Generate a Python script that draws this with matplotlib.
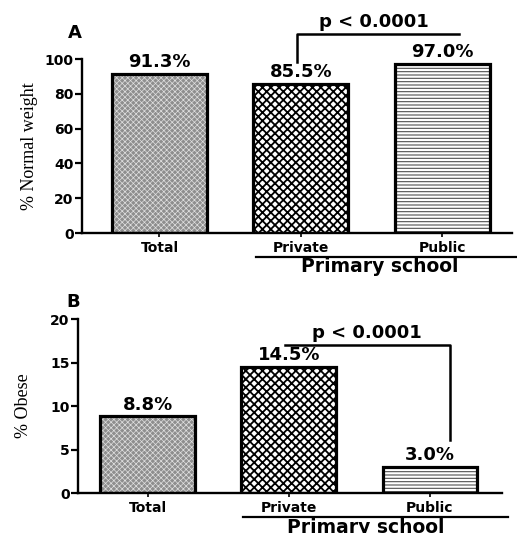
import numpy as np
import matplotlib.pyplot as plt
from matplotlib.lines import Line2D

# data
groups = ['Total', 'Private', 'Public']
normal_pct = [91.3, 85.5, 97.0]
obese_pct = [8.8, 14.5, 3.0]
normal_labels = ['91.3%', '85.5%', '97.0%']
obese_labels = ['8.8%', '14.5%', '3.0%']
p_text = 'p < 0.0001'

# fill style per bar: facecolor, hatch, hatch colour, hatch linewidth
fills = [('#8e8e8e', 'xxxxxx', '#e0e0e0', 0.5),
         ('white', 'xxxx', 'black', 1.3),
         ('white', '-----', '#505050', 0.8)]

plt.rcParams['font.family'] = 'DejaVu Sans'
plt.rcParams['font.weight'] = 'bold'

W, H = 517, 533
fig = plt.figure(figsize=(W / 100, H / 100), dpi=100)
ax1 = fig.add_axes([0.1586, 0.5628, 0.832, 0.3265])
ax2 = fig.add_axes([0.1509, 0.0750, 0.820, 0.3265])

x = np.arange(len(groups))
width = 0.67


def draw_bars(ax, vals, labels, offset):
    for xi, v, lab, (fc, h, hc, hlw) in zip(x, vals, labels, fills):
        with plt.rc_context({'hatch.linewidth': hlw}):
            ax.bar(xi, v, width, color=fc, hatch=h, edgecolor=hc, linewidth=0)
        ax.bar(xi, v, width, fill=False, edgecolor='black', linewidth=2.3)
        ax.annotate(lab, (xi, v), xytext=(0, offset), textcoords='offset points',
                    ha='center', va='bottom', fontsize=13, fontweight='bold')


def style_axis(ax):
    for s in ['top', 'right']:
        ax.spines[s].set_visible(False)
    for s in ['left', 'bottom']:
        ax.spines[s].set_linewidth(1.7)
    ax.tick_params(axis='y', length=5, width=1.6, labelsize=10, pad=1)
    ax.tick_params(axis='x', length=3, width=1.2, labelsize=10, pad=3)
    ax.set_xticks(x)
    ax.set_xticklabels(groups, fontweight='bold')
    for t in ax.get_yticklabels():
        t.set_fontweight('bold')


def school_label(x0, x1, ly, tx, ty):
    # positions in pixels from the top-left corner
    fig.add_artist(Line2D([x0 / W, x1 / W], [1 - ly / H, 1 - ly / H],
                          color='black', lw=1.6, transform=fig.transFigure))
    fig.text(tx / W, 1 - ty / H, 'Primary school', ha='center', va='baseline',
             fontsize=13.5, fontweight='bold')


# panel A
draw_bars(ax1, normal_pct, normal_labels, 2)
style_axis(ax1)
ax1.set_xlim(-0.548, 2.495)
ax1.set_ylim(0, 100)
ax1.set_yticks([0, 20, 40, 60, 80, 100])
ax1.set_ylabel('% Normal weight', family='Liberation Serif', fontweight='normal',
               fontsize=13, labelpad=5)
ax1.plot([0.97, 0.97, 2.12], [98.3, 114.4, 114.4], color='black', lw=1.8, clip_on=False)
ax1.text(1.52, 121, p_text, ha='center', va='center', fontsize=13, fontweight='bold')
ax1.text(-0.60, 115, 'A', ha='center', va='center', fontsize=13, fontweight='bold')
school_label(256, 517, 256.5, 380, 272.5)

# panel B
draw_bars(ax2, obese_pct, obese_labels, 2)
style_axis(ax2)
ax2.set_xlim(-0.493, 2.51)
ax2.set_ylim(0, 20)
ax2.set_yticks([0, 5, 10, 15, 20])
ax2.set_ylabel('% Obese', family='Liberation Serif', fontweight='normal',
               fontsize=13, labelpad=13)
ax2.plot([0.97, 2.14, 2.14], [17.0, 17.0, 6.1], color='black', lw=1.8, clip_on=False)
ax2.text(1.55, 18.4, p_text, ha='center', va='center', fontsize=13, fontweight='bold')
ax2.text(-0.53, 21.9, 'B', ha='center', va='center', fontsize=13, fontweight='bold')
school_label(243, 508, 516.5, 366, 533)

fig.savefig('out.png', dpi=100)
